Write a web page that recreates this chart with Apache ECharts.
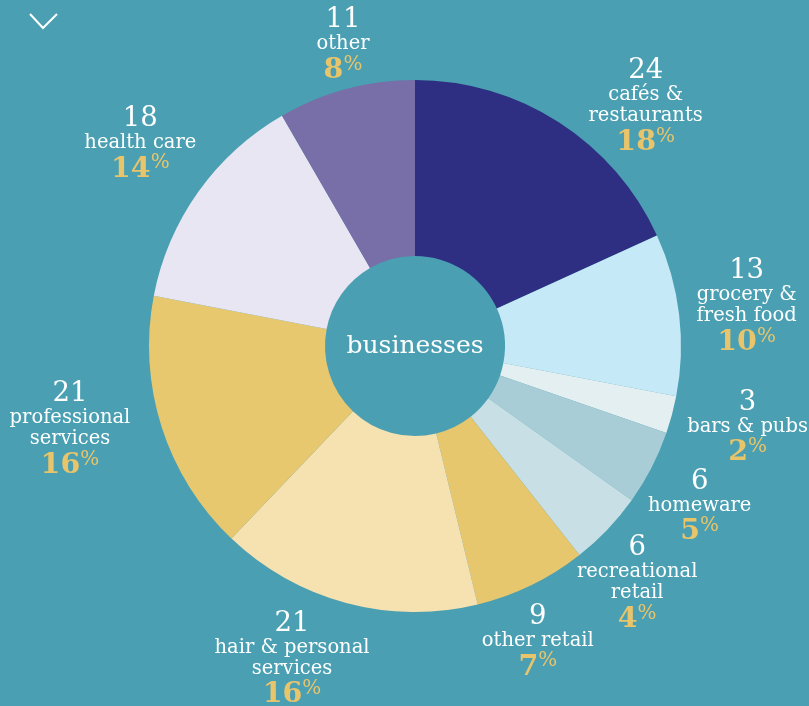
<!DOCTYPE html>
<html>
<head>
<meta charset="utf-8">
<script src="https://cdn.jsdelivr.net/npm/echarts@6/dist/echarts.min.js"></script>
<style>
html,body{margin:0;padding:0;background:#4AA0B2;}
#c{width:809px;height:706px;}
</style>
</head>
<body>
<div id="c"></div>
<script>
const categories = ['cafés &\nrestaurants','grocery &\nfresh food','bars & pubs','homeware','recreational\nretail','other retail','hair & personal\nservices','professional\nservices','health care','other'];
const counts = [24, 13, 3, 6, 6, 9, 21, 21, 18, 11];
const percents = [18, 10, 2, 5, 4, 7, 16, 16, 14, 8];
const centerText = 'businesses';

const colors = ['#2E2F82','#C6E9F7','#E3EFF1','#A8CDD6','#C8DFE5','#E7C76E','#F6E1B0','#E7C86F','#E8E6F2','#786EA8'];
const labelNudge = [[49,45],[-2,2],[8,-4],[-14,8],[-21,7],[-24,-5],[-36,-10],[-25,-17],[-1,-6],[15,25]];
const FONT = 'DejaVu Serif';
const CX = 415, CY = 346;

const chart = echarts.init(document.getElementById('c'), null, {renderer:'canvas'});
const pieData = categories.map((n,i)=>({name:n, value:counts[i], itemStyle:{color:colors[i]}}));
const labelData = categories.map((n,i)=>({name:n, value:counts[i]}));

chart.setOption({
  backgroundColor:'#4AA0B2',
  animation:false,
  graphic:[
    {type:'polyline', shape:{points:[[30,14],[43,28],[57,14]]}, style:{stroke:'#fff', lineWidth:2, fill:null}},
    {type:'text', x:CX, y:CY, style:{text:centerText, fill:'#fff', font:'25px "'+FONT+'"', textAlign:'center', textVerticalAlign:'middle'}}
  ],
  series:[
    {
      type:'pie', center:[CX,CY], radius:[90,266], startAngle:90, clockwise:true,
      silent:true, label:{show:false}, labelLine:{show:false},
      itemStyle:{borderWidth:0},
      data:pieData
    },
    {
      type:'pie', center:[CX,CY], radius:[323,343], startAngle:90, clockwise:true,
      silent:true, itemStyle:{color:'rgba(0,0,0,0)'},
      labelLine:{show:false},
      label:{
        show:true, position:'inside', fontFamily:FONT,
        formatter:function(p){
          const i=p.dataIndex;
          const nameLines = categories[i].split('\n').map(s=>'{nm|'+s+'}').join('\n');
          return '{cnt|'+counts[i]+'}\n'+nameLines+'\n{pct|'+percents[i]+'}{sgn|%}';
        },
        rich:{
          cnt:{fontFamily:FONT, fontSize:27.5, color:'#fff', lineHeight:27, align:'center'},
          nm:{fontFamily:FONT, fontSize:19.5, color:'#fff', lineHeight:21, align:'center'},
          pct:{fontFamily:FONT, fontSize:28.5, fontWeight:'bold', color:'#E8C46B', lineHeight:32},
          sgn:{fontFamily:FONT, fontSize:20, color:'#E8C46B', lineHeight:32, verticalAlign:'top'}
        }
      },
      labelLayout:function(params){
        const n = labelNudge[params.dataIndex];
        return {dx:n[0], dy:n[1]};
      },
      data:labelData
    }
  ]
});
</script>
</body>
</html>
